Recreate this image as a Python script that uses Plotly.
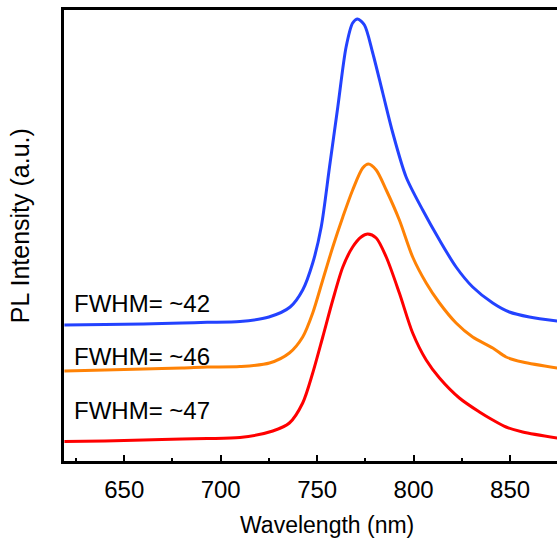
import plotly.graph_objects as go

# PL spectra (wavelength in nm, intensity in arbitrary units)
wl_blue = [619, 640, 660, 680, 693, 710, 725, 736, 742.5, 747.7, 752.1, 756.4, 760.7,
           765.0, 768.4, 771.0, 774.5, 778.8, 784.0, 789.2, 796.1, 804.7, 813.4, 822.0,
           830.6, 841.0, 849.6, 860.0, 874.5]
int_blue = [136, 136.5, 137, 138, 138.7, 139.5, 144, 154, 171, 198, 234, 294, 354,
            414, 438, 442, 436, 408, 368, 328, 284, 251, 221, 194,
            174, 158, 149, 144, 140]

wl_orange = [619, 640, 660, 680, 693, 710, 725.3, 735.6, 742.5, 747.7, 752.9, 758.1, 763.3,
             768.4, 773.6, 776.6, 780.6, 785.8, 792.6, 799.5, 806.5, 813.4, 822.0, 830.6,
             841.0, 847.9, 856.5, 874.5]
int_orange = [90, 91, 92, 93, 94, 94.5, 98, 108, 124, 148, 181, 214, 244,
              271, 293, 297, 291, 271, 241, 204, 178, 158, 138, 124,
              113, 104, 99, 93]

wl_red = [619, 640, 660, 680, 693, 710, 727, 735.6, 742.5, 747.7, 752.9, 758.1, 763.3,
          768.4, 772.8, 776.2, 780.6, 785.8, 792.6, 799.5, 806.5, 813.4, 823.7, 834.1,
          841.0, 847.9, 856.5, 874.5]
int_red = [19.5, 20, 21, 22, 22.5, 23.5, 30, 38, 58, 88, 124, 161, 194,
           214, 224, 227, 223, 204, 168, 128, 101, 83, 63, 49,
           41, 34, 29, 23]

fwhm_labels = ["FWHM= ~42", "FWHM= ~46", "FWHM= ~47"]
fwhm_label_y = [158, 104.5, 50.5]

colors = ["#2342ff", "#ff8205", "#ff0000"]
FONT = "Liberation Sans, Arial"

fig = go.Figure()
for wl, inten, col in [(wl_blue, int_blue, colors[0]),
                       (wl_orange, int_orange, colors[1]),
                       (wl_red, int_red, colors[2])]:
    fig.add_trace(go.Scatter(x=wl, y=inten, mode="lines",
                             line=dict(color=col, width=3, shape="spline", smoothing=0.8),
                             showlegend=False, hoverinfo="skip"))

for txt, yv in zip(fwhm_labels, fwhm_label_y):
    fig.add_annotation(x=623, y=yv, xref="x", yref="y", text=txt, showarrow=False,
                       xanchor="left", yanchor="middle",
                       font=dict(family=FONT, size=24, color="black"))

# axis titles
fig.add_annotation(x=-0.089, y=0.521, xref="paper", yref="paper",
                   text="PL Intensity (a.u.)", textangle=-90, showarrow=False,
                   xanchor="center", yanchor="middle",
                   font=dict(family=FONT, size=25, color="black"))
fig.add_annotation(x=0.5335, y=-0.1415, xref="paper", yref="paper",
                   text="Wavelength (nm)", showarrow=False,
                   xanchor="center", yanchor="middle",
                   font=dict(family=FONT, size=23, color="black"))

fig.update_layout(
    width=557, height=542,
    margin=dict(l=64, r=0, t=10, b=81),
    paper_bgcolor="white", plot_bgcolor="white",
    font=dict(family=FONT, size=23, color="black"),
    xaxis=dict(
        range=[618.8, 874.3], tick0=650, dtick=50,
        ticks="inside", ticklen=6, tickwidth=2, tickcolor="black",
        minor=dict(ticks="inside", ticklen=3, tickwidth=2, dtick=25, tickcolor="black"),
        showline=True, linewidth=2.5, linecolor="black", mirror=True,
        showgrid=False, zeroline=False,
        tickfont=dict(size=24), ticklabelstandoff=5,
    ),
    yaxis=dict(
        range=[0, 451], showticklabels=False, ticks="",
        showline=True, linewidth=2.5, linecolor="black",
        showgrid=False, zeroline=False,
    ),
)

fig.write_html("out.html")
